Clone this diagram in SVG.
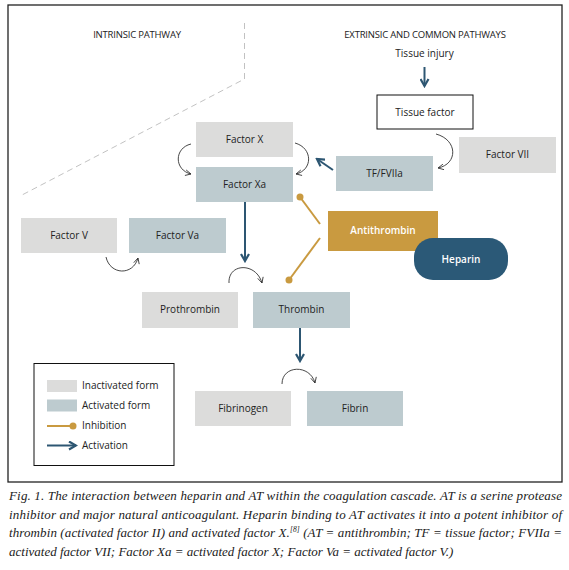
<svg xmlns="http://www.w3.org/2000/svg" width="569" height="570" viewBox="0 0 569 570">
<defs>
<style>
.lbl{font-family:"Open Sans","Liberation Sans",sans-serif;font-size:10px;fill:#222;text-anchor:middle}
.hdr{font-family:"Open Sans","Liberation Sans",sans-serif;font-size:9.5px;fill:#222;text-anchor:middle;letter-spacing:-0.2px}
.wl{font-family:"Open Sans","Liberation Sans",sans-serif;font-size:10px;fill:#fff;text-anchor:middle;font-weight:600}
.leg{font-family:"Open Sans","Liberation Sans",sans-serif;font-size:10px;fill:#222}
.cap{font-family:"Liberation Serif",serif;font-style:italic;font-size:13px;fill:#222}
.ina{fill:#dcdcdb}
.act{fill:#bdcbcf}
.curve{fill:none;stroke:#333;stroke-width:0.9}
.blue{fill:none;stroke:#2d5672;stroke-width:2}
.inh{stroke:#c99a40;stroke-width:2}
.dot{fill:#c99a40}
</style>
<marker id="ch" viewBox="0 0 10 10" refX="9" refY="5" markerWidth="7" markerHeight="7" markerUnits="userSpaceOnUse" orient="auto">
<path d="M1,1 L9,5 L1,9" fill="none" stroke="#333" stroke-width="1.2"/>
</marker>
<marker id="bh" viewBox="0 0 10 10" refX="8" refY="5" markerWidth="10" markerHeight="10" markerUnits="userSpaceOnUse" orient="auto">
<path d="M1,1 L8,5 L1,9" fill="none" stroke="#2d5672" stroke-width="2.2"/>
</marker>
</defs>
<rect x="0" y="0" width="569" height="570" fill="#fff"/>
<rect x="8" y="5" width="554" height="477" fill="none" stroke="#222" stroke-width="1.3"/>

<g id="divider">
<path d="M244.5,23 L244.5,79 L22,195" fill="none" stroke="#bbb" stroke-width="0.9" stroke-dasharray="6,4"/>
</g>
<g id="headers">
<text class="hdr" x="137" y="38">INTRINSIC PATHWAY</text>
<text class="hdr" x="425" y="38">EXTRINSIC AND COMMON PATHWAYS</text>
<text class="lbl" x="424.5" y="57">Tissue injury</text>
</g>

<g id="connectors">
<path class="blue" d="M424.5,67 L424.5,86" marker-end="url(#bh)"/>
<path class="blue" d="M333,170 L317,159" marker-end="url(#bh)"/>
<path class="blue" d="M245,202 L245,261" marker-end="url(#bh)"/>
<path class="blue" d="M300,328 L300,361" marker-end="url(#bh)"/>
<path class="curve" d="M191,144 C174,148 174,170 191,174" marker-end="url(#ch)"/>
<path class="curve" d="M295,143 C313,148 313,170 296,174" marker-end="url(#ch)"/>
<path class="curve" d="M436,134 C458,140 458,164 438,168" marker-end="url(#ch)"/>
<path class="curve" d="M106,257 C110,275 133,276 138,258" marker-end="url(#ch)"/>
<path class="curve" d="M229,283 C228,263 256,262 262,283" marker-end="url(#ch)"/>
<path class="curve" d="M282,384 C282,365 310,364 315,383" marker-end="url(#ch)"/>
<line class="inh" x1="300" y1="197" x2="320" y2="224"/>
<circle class="dot" cx="300" cy="197" r="3.5"/>
<line class="inh" x1="320" y1="238" x2="289" y2="280"/>
<circle class="dot" cx="289" cy="280" r="3.5"/>
</g>

<g id="tissue-factor"><rect x="377" y="95" width="96" height="34" fill="#fff" stroke="#111" stroke-width="1"/><text class="lbl" x="425" y="116">Tissue factor</text></g>
<g id="factor-x"><rect class="ina" x="196" y="122" width="97" height="35"/><text class="lbl" x="244.5" y="143">Factor X</text></g>
<g id="factor-xa"><rect class="act" x="196" y="167" width="97" height="35"/><text class="lbl" x="244.5" y="188">Factor Xa</text></g>
<g id="factor-vii"><rect class="ina" x="459" y="137" width="97" height="36"/><text class="lbl" x="507.5" y="158">Factor VII</text></g>
<g id="tf-fviia"><rect class="act" x="336" y="156" width="97" height="35"/><text class="lbl" x="384.5" y="177">TF/FVIIa</text></g>
<g id="antithrombin"><rect x="328" y="211" width="110" height="40" fill="#c99a40"/><text class="wl" x="383" y="234">Antithrombin</text></g>
<g id="heparin"><rect x="414" y="238" width="94" height="42" rx="19" ry="19" fill="#2b5977"/><text class="wl" x="461" y="263">Heparin</text></g>
<g id="factor-v"><rect class="ina" x="21" y="218" width="96" height="35"/><text class="lbl" x="69" y="239">Factor V</text></g>
<g id="factor-va"><rect class="act" x="129" y="218" width="97" height="35"/><text class="lbl" x="177.5" y="239">Factor Va</text></g>
<g id="prothrombin"><rect class="ina" x="142" y="292" width="96" height="36"/><text class="lbl" x="190" y="313">Prothrombin</text></g>
<g id="thrombin"><rect class="act" x="253" y="292" width="97" height="36"/><text class="lbl" x="301.5" y="313">Thrombin</text></g>
<g id="fibrinogen"><rect class="ina" x="195" y="391" width="96" height="35"/><text class="lbl" x="243" y="412">Fibrinogen</text></g>
<g id="fibrin"><rect class="act" x="307" y="391" width="96" height="35"/><text class="lbl" x="355" y="412">Fibrin</text></g>

<g id="legend">
<rect x="34" y="363.5" width="140" height="102" fill="#fff" stroke="#111" stroke-width="1"/>
<rect class="ina" x="47" y="380" width="30" height="12"/>
<rect class="act" x="47" y="399.5" width="30" height="12"/>
<line class="inh" x1="47" y1="426" x2="72" y2="426"/>
<circle class="dot" cx="73" cy="426" r="3.5"/>
<path class="blue" d="M47,445.5 L76,445.5" marker-end="url(#bh)"/>
<text class="leg" x="82" y="389">Inactivated form</text>
<text class="leg" x="82" y="409">Activated form</text>
<text class="leg" x="82" y="429">Inhibition</text>
<text class="leg" x="82" y="449">Activation</text>
</g>

<g id="caption">
<text class="cap" x="9" y="500" textLength="553" lengthAdjust="spacing">Fig. 1. The interaction between heparin and AT within the coagulation cascade. AT is a serine protease</text>
<text class="cap" x="9" y="518.5" textLength="553" lengthAdjust="spacing">inhibitor and major natural anticoagulant. Heparin binding to AT activates it into a potent inhibitor of</text>
<text class="cap" x="9" y="537" textLength="553" lengthAdjust="spacing">thrombin (activated factor II) and activated factor X.<tspan font-size="7.5" dy="-5">[8]</tspan><tspan dy="5"> (AT = antithrombin; TF = tissue factor; FVIIa =</tspan></text>
<text class="cap" x="9" y="555.5">activated factor VII; Factor Xa = activated factor X; Factor Va = activated factor V.)</text>
</g>
</svg>
